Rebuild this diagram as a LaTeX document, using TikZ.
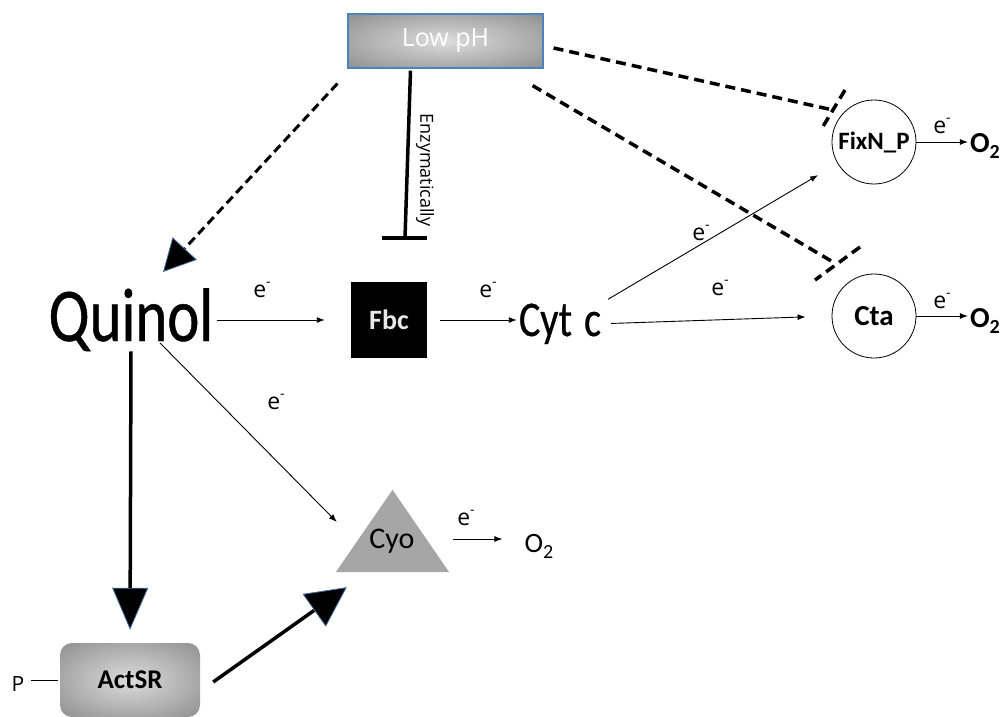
\documentclass[tikz,border=0pt]{standalone}
\usepackage{fontspec}
\setmainfont{Carlito}
\newfontfamily\narrowfont{Carlito}[FakeStretch=0.8,FakeBold=0.6]
\newfontfamily\opensans{Open Sans}
\usetikzlibrary{arrows.meta,calc}
\definecolor{tipblue}{HTML}{41719C}
\definecolor{boxblue}{HTML}{4F81BD}
\definecolor{cyogray}{HTML}{A6A6A6}
\definecolor{gradin}{HTML}{DCDCDC}
\definecolor{gradout}{HTML}{707070}
\definecolor{fbctext}{HTML}{E8E8E8}
\pgfdeclareradialshading{boxshade}{\pgfpoint{0bp}{0bp}}{color(0bp)=(gradin); color(50bp)=(gradout); color(75bp)=(gradout)}
\newcommand{\otwotext}{O\raisebox{-0.22em}{\fontsize{20}{20}\selectfont 2}}
\newcommand{\elec}{e\raisebox{0.45em}{\fontsize{14}{14}\selectfont -}}
\begin{document}
\begin{tikzpicture}[x=1pt,y=-1pt,
  elbl/.style={font=\opensans\fontsize{23}{23}\selectfont, inner sep=0pt},
  thinarrow/.style={line width=0.9pt, -{Latex[length=8pt,width=6pt]}},
  downarrow/.style={line width=3.5pt, -{Triangle[length=42pt,width=36pt,line width=0.8pt,color=tipblue,fill=black]}},
  diagarrow/.style={line width=3.5pt, -{Triangle[length=40pt,width=40pt,line width=0.8pt,color=tipblue,fill=black]}},
  dasharrow/.style={line width=3pt, dash pattern=on 9pt off 5pt, -{Triangle[length=32pt,width=33pt,line width=0.8pt,color=tipblue,fill=black]}},
  inhib/.style={line width=3.5pt, dash pattern=on 10pt off 6pt},
  gradbox/.style={shade, shading=boxshade},
  enzyme/.style={circle, draw, line width=0.8pt, minimum size=84pt, inner sep=0pt},
  otwo/.style={inner sep=0pt, font=\fontsize{28}{28}\selectfont}
]
\useasboundingbox (0,0) rectangle (1005,717);

% Low pH
\node[gradbox, draw=boxblue, line width=1.2pt, minimum width=195pt, minimum height=54pt, text=white,
      font=\opensans\fontsize{25}{25}\selectfont] (lowph) at (445.5,41) {Low pH};

% Quinol
\node[anchor=base, inner sep=0pt, font=\narrowfont\fontsize{76}{76}\selectfont] (quinol) at (131,341) {Quinol};

% Fbc
\node[fill=black, minimum size=76pt, inner sep=0pt, text=fbctext,
      font=\bfseries\fontsize{28}{28}\selectfont] (fbc) at (389,320) {Fbc};

% Cyt c
\node[anchor=base, inner sep=0pt, font=\narrowfont\fontsize{50}{50}\selectfont] (cytc) at (560,336) {Cyt\hspace{3pt} c};

% FixN_P and Cta
\node[enzyme, font=\bfseries\fontsize{25}{25}\selectfont] (fixn) at (874,142) {FixN\_P};
\node[enzyme, font=\bfseries\fontsize{29}{29}\selectfont] (cta) at (874,316) {Cta};

% Cyo triangle
\node[minimum width=113pt, minimum height=82pt, inner sep=0pt] (cyo) at (392.5,531) {};
\fill[cyogray] (cyo.south west) -- (cyo.south east) -- (cyo.north) -- cycle;
\node[inner sep=0pt, font=\fontsize{30}{30}\selectfont] (cyolabel) at (392,541) {Cyo};

% ActSR
\node[gradbox, rounded corners=12pt, minimum width=140pt, minimum height=74pt, inner sep=0pt,
      font=\bfseries\fontsize{27}{27}\selectfont] (actsr) at (130,680) {\raisebox{-5pt}{ActSR}};
\node[inner sep=0pt, font=\opensans\fontsize{21}{21}\selectfont] (p) at (18,684) {P};
\draw[line width=0.8pt, shorten <=6pt, shorten >=2pt] (p.east |- actsr.west) -- (actsr.west);

% O2 nodes
\node[otwo, font=\bfseries\fontsize{29}{29}\selectfont] (o2a) at (985,146) {\otwotext};
\node[otwo, font=\bfseries\fontsize{29}{29}\selectfont] (o2b) at (985,321) {\otwotext};
\node[otwo] (o2c) at (539,546) {\otwotext};

% electron transfer arrows
\draw[thinarrow, shorten <=3pt, shorten >=26pt] (quinol.east |- fbc.west) -- (fbc.west);
\node[elbl] (e1) at (262,290) {\elec};
\draw[thinarrow, shorten <=13pt, shorten >=2pt] (fbc.east) -- (fbc.east -| cytc.west);
\node[elbl] (e2) at (488,290) {\elec};
\draw[thinarrow, shorten <=8pt, shorten >=65pt] (cytc.north east) -- (fixn.center);
\node[elbl] (e3) at (701,233) {\elec};
\draw[thinarrow, shorten <=10pt, shorten >=26pt] (cytc.east) -- (cta.west);
\node[elbl] (e4) at (720,288) {\elec};
\draw[thinarrow] ($(quinol.base)+(29,2)$) -- ($(cyo.west)+(1,-9)$);
\node[elbl] (e5) at (276,402) {\elec};
\coordinate (cyoout) at ($(cyo.east)+(4,8)$);
\draw[thinarrow, shorten >=22pt] (cyoout) -- (cyoout -| o2c.west);
\node[elbl] (e6) at (466,518) {\elec};
\draw[thinarrow, shorten >=2pt] (fixn.east) -- (fixn.east -| o2a.west);
\node[elbl] (e7) at (942,126) {\elec};
\draw[thinarrow, shorten >=2pt] (cta.east) -- (cta.east -| o2b.west);
\node[elbl] (e8) at (942,301) {\elec};

% thick arrows
\draw[downarrow, shorten >=13pt] (quinol.south) -- (actsr.north);
\draw[diagarrow] ($(actsr.east)+(13,2)$) -- ($(cyo.south west)+(11,15)$);

% low pH effects
\draw[dasharrow] ($(lowph.south west)+(-10,15)$) -- ($(quinol.base)+(32,-69)$);

\coordinate (inhF) at ($(fixn.north west)+(-11,-2)$);
\draw[inhib] ($(lowph.east)+(10,7)$) -- (inhF);
\draw[inhib] ($(inhF)+(12,-20)$) -- ($(inhF)+(-11,18)$);

\coordinate (inhC) at ($(cta.north west)+(-11,-24)$);
\draw[inhib] ($(lowph.south east)+(-11,17)$) -- (inhC);
\draw[inhib] ($(inhC)+(27,-15)$) -- ($(inhC)+(-18,18)$);

\coordinate (enz) at ($(fbc.north)+(16,-44)$);
\draw[line width=3.5pt] ($(lowph.south)+(-35,2)$) -- (enz);
\draw[line width=3.5pt] ($(enz)+(-23,0)$) -- ($(enz)+(22,0)$);
\node[rotate=-90, inner sep=0pt, font=\opensans\fontsize{18}{18}\selectfont] (enzl) at (425,170) {Enzymatically};
\end{tikzpicture}
\end{document}
